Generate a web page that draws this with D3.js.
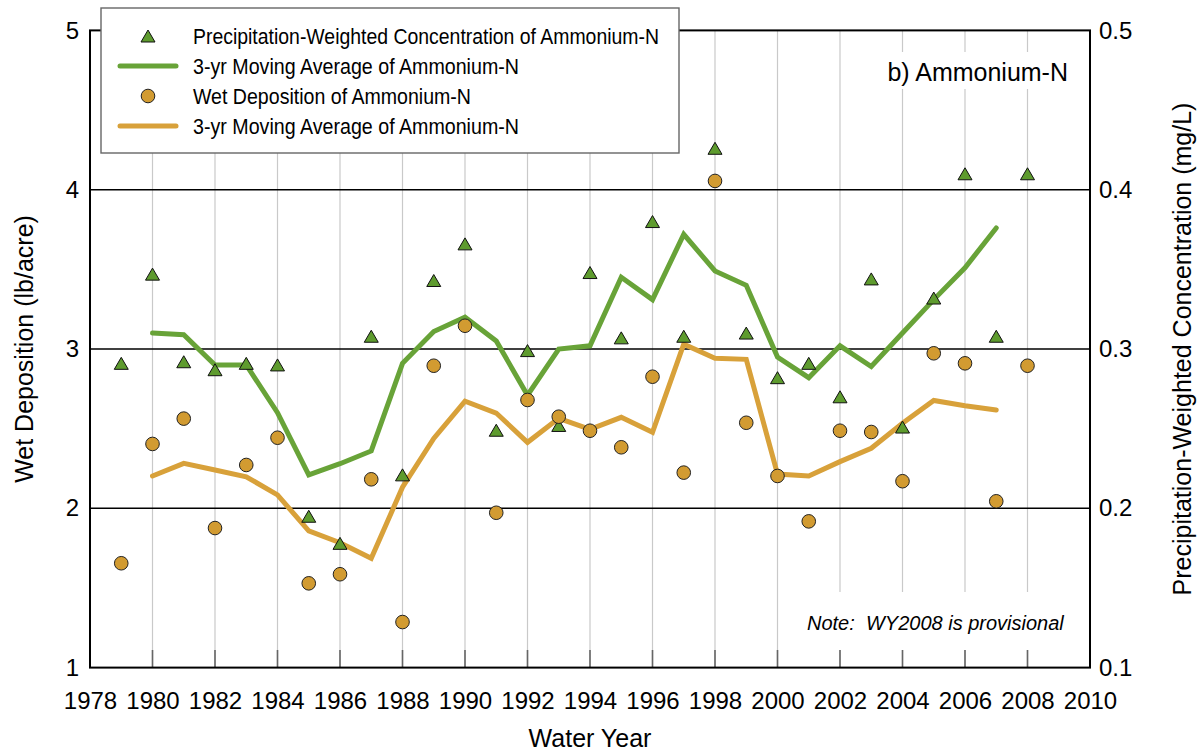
<!DOCTYPE html>
<html><head><meta charset="utf-8">
<script src="https://cdn.jsdelivr.net/npm/d3@7"></script>
<style>
body{margin:0;background:#fff;}
svg text{font-family:"Liberation Sans",Arial,Helvetica,sans-serif;fill:#000;}
</style></head><body>
<svg id="c" width="1200" height="753"></svg>
<script>
// ---- data ----
const years = [1979,1980,1981,1982,1983,1984,1985,1986,1987,1988,1989,1990,1991,1992,1993,1994,1995,1996,1997,1998,1999,2000,2001,2002,2003,2004,2005,2006,2007,2008];
const concentration = [0.291,0.347,0.292,0.287,0.291,0.290,0.195,0.178,0.308,0.221,0.343,0.366,0.249,0.299,0.252,0.348,0.307,0.380,0.308,0.426,0.310,0.282,0.291,0.270,0.344,0.251,0.332,0.410,0.308,0.410];
const deposition = [1.655,2.404,2.563,1.876,2.272,2.443,1.529,1.586,2.182,1.286,2.895,3.146,1.972,2.680,2.575,2.487,2.383,2.826,2.224,4.055,2.537,2.203,1.918,2.487,2.479,2.170,2.973,2.910,2.044,2.895];
const maYears = [1980,1981,1982,1983,1984,1985,1986,1987,1988,1989,1990,1991,1992,1993,1994,1995,1996,1997,1998,1999,2000,2001,2002,2003,2004,2005,2006,2007];
const concentrationMA = [0.310,0.309,0.290,0.290,0.260,0.221,0.228,0.236,0.291,0.311,0.320,0.305,0.271,0.300,0.302,0.345,0.331,0.372,0.349,0.340,0.295,0.282,0.302,0.289,0.310,0.331,0.351,0.376];
const depositionMA = [2.203,2.282,2.240,2.198,2.084,1.858,1.784,1.686,2.132,2.439,2.672,2.598,2.414,2.565,2.496,2.571,2.477,3.030,2.942,2.935,2.215,2.203,2.293,2.377,2.534,2.677,2.644,2.617];
const xTickValues = [1978,1980,1982,1984,1986,1988,1990,1992,1994,1996,1998,2000,2002,2004,2006,2008,2010];
const gridYears = [1980,1982,1984,1986,1988,1990,1992,1994,1996,1998,2000,2002,2004,2006,2008];
const leftTickValues = [1,2,3,4,5];
const leftGridValues = [2,3,4];
const rightTickValues = [0.1,0.2,0.3,0.4,0.5];
const legendLabels = ["Precipitation-Weighted Concentration of Ammonium-N","3-yr Moving Average of Ammonium-N","Wet Deposition of Ammonium-N","3-yr Moving Average of Ammonium-N"];
const panelLabel = "b) Ammonium-N";
const noteLabel = "Note:  WY2008 is provisional";
const xTitle = "Water Year";
const yLeftTitle = "Wet Deposition (lb/acre)";
const yRightTitle = "Precipitation-Weighted Concentration (mg/L)";

// ---- styles ----
const GREEN = "#5e9b2e", GREEN_LINE = "#68a338", ORANGE = "#d29b31", ORANGE_LINE = "#d8a13a";
const L = 90, R = 1090, T = 30.4, B = 667.6;

const svg = d3.select("#c");
svg.append("rect").attr("width",1200).attr("height",753).attr("fill","#fff");

const x = d3.scaleLinear().domain([1978,2010]).range([L,R]);
const yL = d3.scaleLinear().domain([1,5]).range([B,T]);
const yR = d3.scaleLinear().domain([0.1,0.5]).range([B,T]);

// vertical gridlines
svg.append("g").selectAll("line").data(gridYears).join("line")
  .attr("x1",d=>x(d)).attr("x2",d=>x(d)).attr("y1",T).attr("y2",B)
  .attr("stroke","#c9c9c9").attr("stroke-width",1.2);

// white boxes behind panel label and note
svg.append("rect").attr("x",878).attr("y",52).attr("width",206).attr("height",37).attr("fill","#fff");
svg.append("rect").attr("x",790).attr("y",592).attr("width",298).attr("height",58).attr("fill","#fff");

// bottom tick marks
svg.append("g").selectAll("line").data(gridYears).join("line")
  .attr("x1",d=>x(d)).attr("x2",d=>x(d)).attr("y1",650).attr("y2",B)
  .attr("stroke","#666").attr("stroke-width",1.6);

// horizontal gridlines
svg.append("g").selectAll("line").data(leftGridValues).join("line")
  .attr("x1",L).attr("x2",R).attr("y1",d=>yL(d)).attr("y2",d=>yL(d))
  .attr("stroke","#000").attr("stroke-width",1.6);

// frame
svg.append("rect").attr("x",L).attr("y",T).attr("width",R-L).attr("height",B-T)
  .attr("fill","none").attr("stroke","#000").attr("stroke-width",2);

// axes
const gx = svg.append("g").attr("transform",`translate(0,${B})`)
  .call(d3.axisBottom(x).tickValues(xTickValues).tickFormat(d3.format("d")).tickSize(0).tickPadding(24));
gx.select(".domain").remove();
gx.selectAll("text").attr("font-size",24).attr("font-family",null);

const gl = svg.append("g").attr("transform",`translate(${L},0)`)
  .call(d3.axisLeft(yL).tickValues(leftTickValues).tickFormat(d3.format("d")).tickSize(0).tickPadding(11));
gl.select(".domain").remove();
gl.selectAll("text").attr("font-size",24).attr("font-family",null);

const gr = svg.append("g").attr("transform",`translate(${R},0)`)
  .call(d3.axisRight(yR).tickValues(rightTickValues).tickFormat(d3.format(".1f")).tickSize(0).tickPadding(9));
gr.select(".domain").remove();
gr.selectAll("text").attr("font-size",24).attr("font-family",null);

// axis titles
svg.append("text").attr("x",590).attr("y",747).attr("text-anchor","middle").attr("font-size",25).text(xTitle);
svg.append("text").attr("transform","translate(33,349) rotate(-90)").attr("text-anchor","middle").attr("font-size",25).text(yLeftTitle);
svg.append("text").attr("transform","translate(1191,349) rotate(-90)").attr("text-anchor","middle").attr("font-size",25).text(yRightTitle);

// panel label & note
svg.append("text").attr("x",1068).attr("y",81).attr("text-anchor","end").attr("font-size",25).text(panelLabel);
svg.append("text").attr("x",807).attr("y",630).attr("font-size",20).attr("font-style","italic")
  .style("white-space","pre").text(noteLabel);

// moving average lines
const lineR = d3.line().x((d,i)=>x(maYears[i])).y(d=>yR(d));
const lineL = d3.line().x((d,i)=>x(maYears[i])).y(d=>yL(d));
svg.append("path").datum(concentrationMA).attr("d",lineR).attr("fill","none")
  .attr("stroke",GREEN_LINE).attr("stroke-width",5).attr("stroke-linejoin","miter").attr("stroke-linecap","round");
svg.append("path").datum(depositionMA).attr("d",lineL).attr("fill","none")
  .attr("stroke",ORANGE_LINE).attr("stroke-width",5).attr("stroke-linejoin","miter").attr("stroke-linecap","round");

// markers
const triPath = (s,h)=>`M0,${-h/2}L${s/2},${h/2}L${-s/2},${h/2}Z`;
svg.append("g").selectAll("path").data(concentration).join("path")
  .attr("d",triPath(14,12)).attr("transform",(d,i)=>`translate(${x(years[i])},${yR(d)})`)
  .attr("fill",GREEN).attr("stroke","#111").attr("stroke-width",1);
svg.append("g").selectAll("circle").data(deposition).join("circle")
  .attr("cx",(d,i)=>x(years[i])).attr("cy",d=>yL(d)).attr("r",6.8)
  .attr("fill",ORANGE).attr("stroke","#222").attr("stroke-width",1);

// legend
const lg = svg.append("g");
lg.append("rect").attr("x",101).attr("y",8).attr("width",578).attr("height",145)
  .attr("fill","#fff").attr("stroke","#666").attr("stroke-width",1.4);
const rowY = [36,66,96,126];
const rowW = [466,326,278,326];
lg.append("path").attr("d",triPath(14,12)).attr("transform",`translate(148,${rowY[0]})`)
  .attr("fill",GREEN).attr("stroke","#111").attr("stroke-width",1);
lg.append("line").attr("x1",120).attr("x2",176).attr("y1",rowY[1]).attr("y2",rowY[1])
  .attr("stroke",GREEN_LINE).attr("stroke-width",5).attr("stroke-linecap","round");
lg.append("circle").attr("cx",148).attr("cy",rowY[2]).attr("r",6.8)
  .attr("fill",ORANGE).attr("stroke","#222").attr("stroke-width",1);
lg.append("line").attr("x1",120).attr("x2",176).attr("y1",rowY[3]).attr("y2",rowY[3])
  .attr("stroke",ORANGE_LINE).attr("stroke-width",5).attr("stroke-linecap","round");
lg.selectAll("text.lbl").data(legendLabels).join("text").attr("class","lbl")
  .attr("x",193).attr("y",(d,i)=>rowY[i]+7.5).attr("font-size",21.5)
  .attr("textLength",(d,i)=>rowW[i]).attr("lengthAdjust","spacingAndGlyphs")
  .text(d=>d);
</script>
</body></html>
